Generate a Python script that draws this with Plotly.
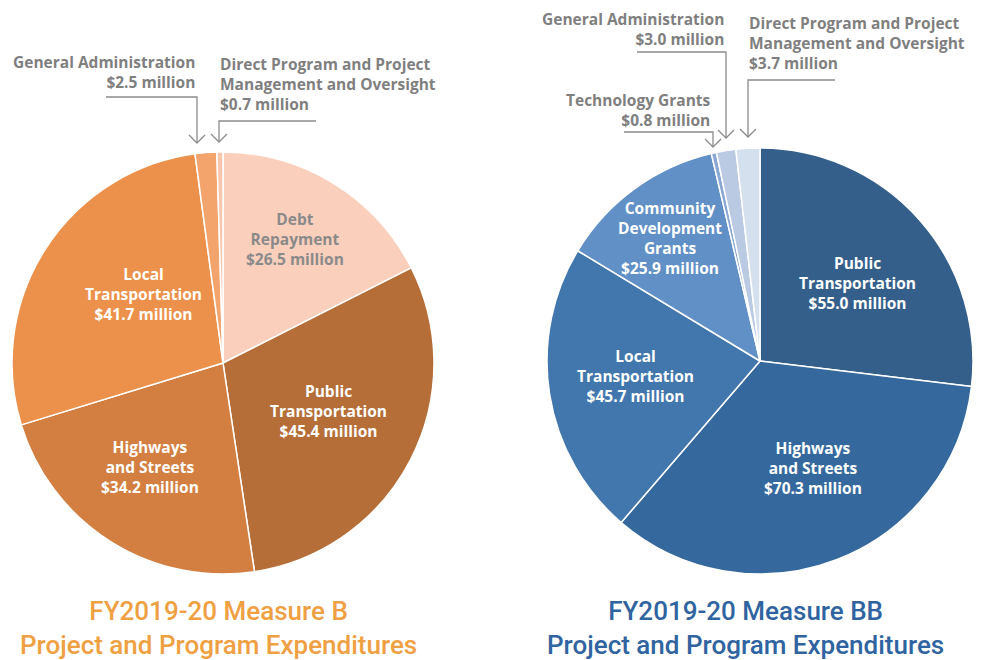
import plotly.graph_objects as go

# The page body has an 8px margin, so the figure is sized to fill the rest of the window.
OX, OY = 8, 8
W, H = 995 - OX, 660 - OY

# ---- Data ----
b_labels = ["Debt Repayment", "Public Transportation", "Highways and Streets",
            "Local Transportation", "General Administration",
            "Direct Program and Project Management and Oversight"]
b_values = [26.5, 45.4, 34.2, 41.7, 2.5, 0.7]
b_colors = ["#FAD0BD", "#B56E38", "#D27F41", "#EC914B", "#F3A46C", "#F8C6AC"]

bb_labels = ["Public Transportation", "Highways and Streets", "Local Transportation",
             "Community Development Grants", "Technology Grants",
             "General Administration",
             "Direct Program and Project Management and Oversight"]
bb_values = [55.0, 70.3, 45.7, 25.9, 0.8, 3.0, 3.7]
bb_colors = ["#345F8A", "#35699D", "#4277AD", "#6190C6", "#8AA8D3", "#BACAE2", "#D5E0EE"]

title_b = "FY2019-20 Measure B<br>Project and Program Expenditures"
title_bb = "FY2019-20 Measure BB<br>Project and Program Expenditures"


def px(x):
    return (x - OX) / W


def py(y):
    return 1 - (y - OY) / H


def dom(cx, cy, r):
    return dict(x=[px(cx - r), px(cx + r)], y=[py(cy + r), py(cy - r)])


fig = go.Figure()
fig.add_trace(go.Pie(labels=b_labels, values=b_values, sort=False, direction="clockwise",
                     rotation=0, textinfo="none", hoverinfo="label+value",
                     marker=dict(colors=b_colors, line=dict(color="white", width=1.5)),
                     domain=dom(223, 363, 211), showlegend=False))
fig.add_trace(go.Pie(labels=bb_labels, values=bb_values, sort=False, direction="clockwise",
                     rotation=0, textinfo="none", hoverinfo="label+value",
                     marker=dict(colors=bb_colors, line=dict(color="white", width=1.5)),
                     domain=dom(760, 361, 213), showlegend=False))

FONT = "'Open Sans', Lato, sans-serif"
GREY = "#7F7F7F"
ann = []


def label(x, y, text, color="white", align="center", xanchor="center", yanchor="middle", size=15.5):
    ann.append(dict(x=px(x), y=py(y), xref="paper", yref="paper", text=text, showarrow=False,
                    align=align, xanchor=xanchor, yanchor=yanchor,
                    font=dict(family=FONT, size=size, color=color, weight="bold")))


# inside labels (left)
label(295, 239, "Debt<br>Repayment<br>$26.5 million", color="#8A8A8A")
label(143, 294, "Local<br>Transportation<br>$41.7 million")
label(328, 411, "Public<br>Transportation<br>$45.4 million")
label(150, 467, "Highways<br>and Streets<br>$34.2 million")
# inside labels (right)
label(670, 238, "Community<br>Development<br>Grants<br>$25.9 million")
label(857, 283, "Public<br>Transportation<br>$55.0 million")
label(635, 376, "Local<br>Transportation<br>$45.7 million")
label(813, 468, "Highways<br>and Streets<br>$70.3 million")

# callout labels
label(197, 71.5, "General Administration<br>$2.5 million", color=GREY, align="right", xanchor="right")
label(218, 84, "Direct Program and Project<br>Management and Oversight<br>$0.7 million",
      color=GREY, align="left", xanchor="left")
label(726, 29, "General Administration<br>$3.0 million", color=GREY, align="right", xanchor="right")
label(747, 43, "Direct Program and Project<br>Management and Oversight<br>$3.7 million",
      color=GREY, align="left", xanchor="left")
label(713, 109.5, "Technology Grants<br>$0.8 million", color=GREY, align="right", xanchor="right")

# titles
TFONT = "Roboto, sans-serif"
ann.append(dict(x=px(218), y=py(628), xref="paper", yref="paper", text=title_b, showarrow=False,
                align="center", xanchor="center", yanchor="middle",
                font=dict(family=TFONT, size=26, color="#EFA042", weight=500)))
ann.append(dict(x=px(745), y=py(628), xref="paper", yref="paper", text=title_bb, showarrow=False,
                align="center", xanchor="center", yanchor="middle",
                font=dict(family=TFONT, size=26, color="#2F64A0", weight=500)))

# leader lines with open chevron heads
shapes = []
LC = "#8C8C8C"


def leader(x0, xv, yh, ytip):
    path = f"M {px(x0)} {py(yh)} L {px(xv)} {py(yh)} L {px(xv)} {py(ytip)}"
    shapes.append(dict(type="path", xref="paper", yref="paper", path=path,
                       line=dict(color=LC, width=1.3)))
    chev = (f"M {px(xv - 8)} {py(ytip - 8)} L {px(xv)} {py(ytip)} "
            f"L {px(xv + 8)} {py(ytip - 8)}")
    shapes.append(dict(type="path", xref="paper", yref="paper", path=chev,
                       line=dict(color=LC, width=1.3)))


leader(106, 197, 97, 143)
leader(316, 219, 121, 142)
leader(637, 726, 52, 138)
leader(835, 748, 80, 137)
leader(624, 713, 132, 147)

fig.update_layout(width=W, height=H, margin=dict(l=0, r=0, t=0, b=0),
                  paper_bgcolor="white", plot_bgcolor="white",
                  annotations=ann, shapes=shapes)

fig.write_html("out.html")
